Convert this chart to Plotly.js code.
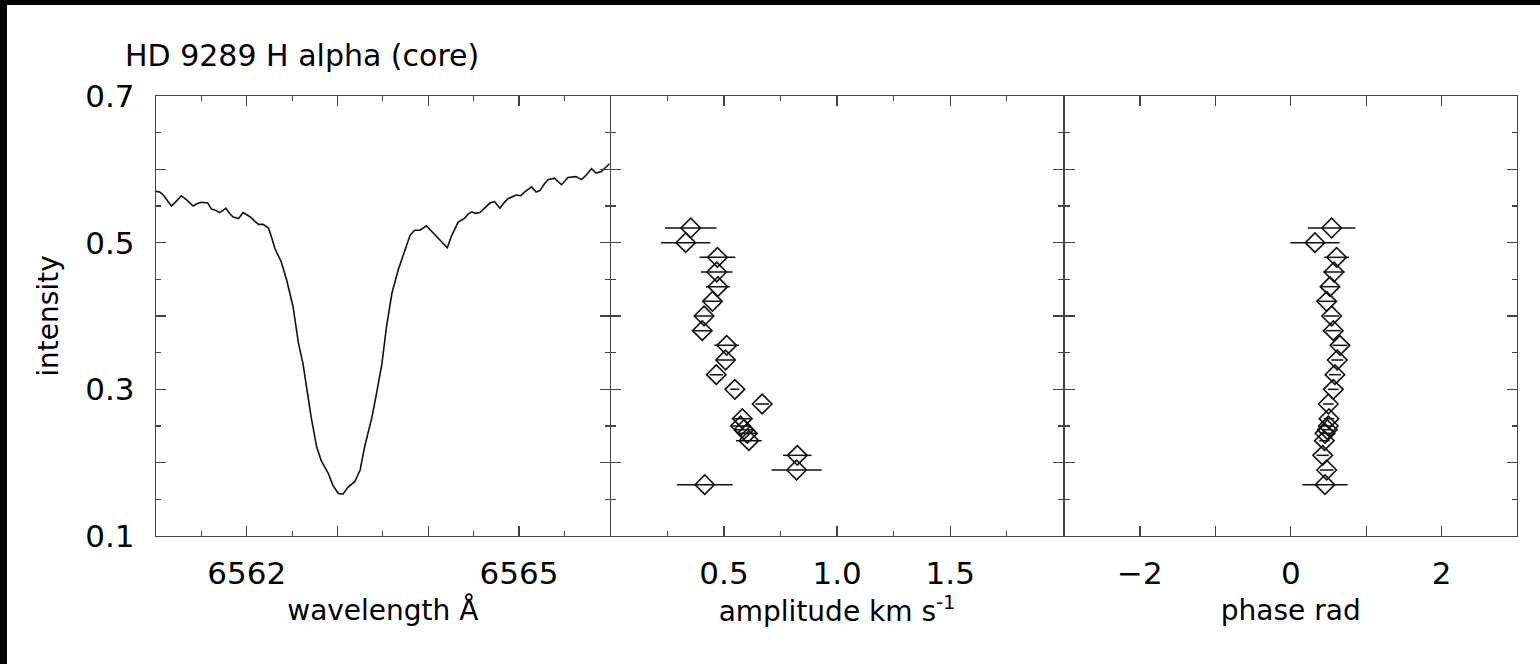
<!DOCTYPE html>
<html>
<head>
<meta charset="utf-8">
<script src="https://cdn.plot.ly/plotly-3.0.1.min.js"></script>
<style>
  html, body { margin: 0; padding: 0; background: #000; width: 1540px; height: 664px; overflow: hidden; }
  #chart { position: absolute; left: 7px; top: 5px; width: 1533px; height: 659px; background: #fff; }
</style>
</head>
<body>
<div id="chart"></div>
<script>
// ---- data ----
const wavelength = [6561.00,6561.04,6561.08,6561.13,6561.17,6561.22,6561.28,6561.34,6561.41,6561.45,6561.50,6561.57,6561.61,6561.66,6561.70,6561.74,6561.77,6561.81,6561.85,6561.91,6561.96,6562.00,6562.04,6562.09,6562.13,6562.18,6562.24,6562.28,6562.31,6562.38,6562.44,6562.51,6562.57,6562.62,6562.66,6562.71,6562.77,6562.82,6562.86,6562.90,6562.95,6563.01,6563.06,6563.09,6563.12,6563.19,6563.25,6563.30,6563.38,6563.43,6563.49,6563.54,6563.60,6563.67,6563.74,6563.80,6563.85,6563.91,6563.98,6564.04,6564.09,6564.16,6564.21,6564.26,6564.33,6564.40,6564.44,6564.48,6564.52,6564.57,6564.63,6564.68,6564.73,6564.79,6564.84,6564.88,6564.97,6565.02,6565.06,6565.14,6565.19,6565.23,6565.28,6565.32,6565.39,6565.47,6565.54,6565.63,6565.69,6565.74,6565.80,6565.85,6565.91,6565.94,6566.00];
const spectrum = [0.570,0.569,0.565,0.556,0.550,0.556,0.564,0.558,0.550,0.553,0.555,0.554,0.546,0.544,0.541,0.544,0.547,0.540,0.535,0.533,0.541,0.538,0.535,0.529,0.525,0.525,0.520,0.505,0.492,0.474,0.449,0.413,0.363,0.335,0.303,0.262,0.222,0.203,0.194,0.185,0.169,0.158,0.157,0.162,0.167,0.174,0.190,0.222,0.262,0.294,0.335,0.385,0.431,0.463,0.488,0.510,0.517,0.517,0.523,0.515,0.508,0.499,0.493,0.510,0.528,0.533,0.539,0.542,0.540,0.541,0.548,0.554,0.556,0.547,0.555,0.560,0.565,0.564,0.569,0.576,0.569,0.571,0.580,0.586,0.588,0.579,0.589,0.590,0.586,0.592,0.601,0.595,0.597,0.601,0.608];

const levels    = [0.52,0.50,0.48,0.46,0.44,0.42,0.40,0.38,0.36,0.34,0.32,0.30,0.28,0.26,0.25,0.245,0.24,0.23,0.21,0.19,0.17];
const amplitude = [0.353,0.331,0.471,0.468,0.473,0.449,0.412,0.404,0.512,0.507,0.466,0.548,0.669,0.581,0.573,0.588,0.603,0.610,0.824,0.821,0.415];
const ampErr    = [0.114,0.109,0.079,0.070,0.053,0.040,0.042,0.042,0.055,0.038,0.030,0.020,0.030,0.037,0.039,0.040,0.040,0.057,0.063,0.111,0.123];
const phase     = [0.542,0.321,0.608,0.573,0.520,0.476,0.542,0.564,0.652,0.617,0.586,0.564,0.498,0.507,0.498,0.485,0.454,0.446,0.423,0.476,0.454];
const phaseErr  = [0.315,0.326,0.165,0.140,0.120,0.110,0.100,0.100,0.100,0.080,0.080,0.070,0.070,0.070,0.070,0.070,0.070,0.070,0.080,0.090,0.302];

const ampTickVals = [0.5, 1.0, 1.5];
const ampTickText = ['0.5', '1.0', '1.5'];

const INK = '#111';
const AX = '#444';
const FONT = 'DejaVu Sans, sans-serif';
const GAP = 1.2 / 1361;

const traces = [
  { x: wavelength, y: spectrum, xaxis: 'x', yaxis: 'y', type: 'scatter', mode: 'lines',
    line: { color: INK, width: 1.6 }, hoverinfo: 'x+y' },
  { x: amplitude, y: levels, xaxis: 'x2', yaxis: 'y2', type: 'scatter', mode: 'markers',
    marker: { symbol: 'diamond-open', size: 15, color: INK, line: { width: 1.6, color: INK } },
    error_x: { type: 'data', array: ampErr, visible: true, color: INK, thickness: 1.5, width: 0 } },
  { x: phase, y: levels, xaxis: 'x3', yaxis: 'y3', type: 'scatter', mode: 'markers',
    marker: { symbol: 'diamond-open', size: 15, color: INK, line: { width: 1.6, color: INK } },
    error_x: { type: 'data', array: phaseErr, visible: true, color: INK, thickness: 1.5, width: 0 } }
];

function xAxis(domain, range, ticking, minorDtick, title, anchor) {
  const a = Object.assign({
    domain: domain, range: range, anchor: anchor,
    showline: true, linecolor: AX, linewidth: 1.2, mirror: 'allticks',
    ticks: 'inside', ticklen: 10, tickwidth: 1.2, tickcolor: AX,
    showgrid: false, zeroline: false,
    tickfont: { family: FONT, size: 31, color: '#000' },
    ticklabelstandoff: 10,
    title: { text: title, font: { family: FONT, size: 28, color: '#000' }, standoff: 10 }
  }, ticking);
  if (minorDtick) {
    a.minor = { ticks: 'inside', ticklen: 5, tickwidth: 1.2, tickcolor: AX, dtick: minorDtick, tick0: range[0], showgrid: false };
  }
  return a;
}
function yAxis(anchor, showLabels) {
  return {
    domain: [0, 1], range: [0.1, 0.7], anchor: anchor,
    showline: true, linecolor: AX, linewidth: 1.2, mirror: 'allticks',
    ticks: 'inside', ticklen: 10, tickwidth: 1.2, tickcolor: AX,
    tickmode: 'linear', tick0: 0.1, dtick: 0.1, ticklabelstep: 2,
    showticklabels: showLabels,
    showgrid: false, zeroline: false,
    minor: { ticks: 'inside', ticklen: 5, tickwidth: 1.2, tickcolor: AX, dtick: 0.05, tick0: 0.1, showgrid: false },
    tickfont: { family: FONT, size: 31, color: '#000' },
    ticklabelstandoff: 14
  };
}

const layout = {
  width: 1533, height: 659,
  margin: { l: 149, r: 23, t: 91, b: 128 },
  paper_bgcolor: '#fff', plot_bgcolor: '#fff',
  showlegend: false,
  title: { text: 'HD 9289 H alpha (core)', font: { family: FONT, size: 30, color: '#000' },
           xref: 'container', x: 118 / 1533, xanchor: 'left', yref: 'container', y: 1 - 50 / 659, yanchor: 'middle' },
  xaxis:  xAxis([0, 1/3], [6561, 6566], { tickmode: 'linear', tick0: 6562, dtick: 1, ticklabelstep: 3 }, 0.5, 'wavelength Å', 'y'),
  xaxis2: xAxis([1/3 + GAP, 2/3], [0, 2], { tickmode: 'array', tickvals: ampTickVals, ticktext: ampTickText }, 0.25, 'amplitude km s<sup>-1</sup>', 'y2'),
  xaxis3: xAxis([2/3 + GAP, 1], [-3, 3], { tickmode: 'linear', tick0: -2, dtick: 1, ticklabelstep: 2 }, null, 'phase rad', 'y3'),
  yaxis:  Object.assign(yAxis('x', true), { title: { text: 'intensity', font: { family: FONT, size: 28, color: '#000' }, standoff: 18 } }),
  yaxis2: yAxis('x2', false),
  yaxis3: yAxis('x3', false)
};

Plotly.newPlot('chart', traces, layout, { displayModeBar: false, staticPlot: true });
</script>
</body>
</html>
